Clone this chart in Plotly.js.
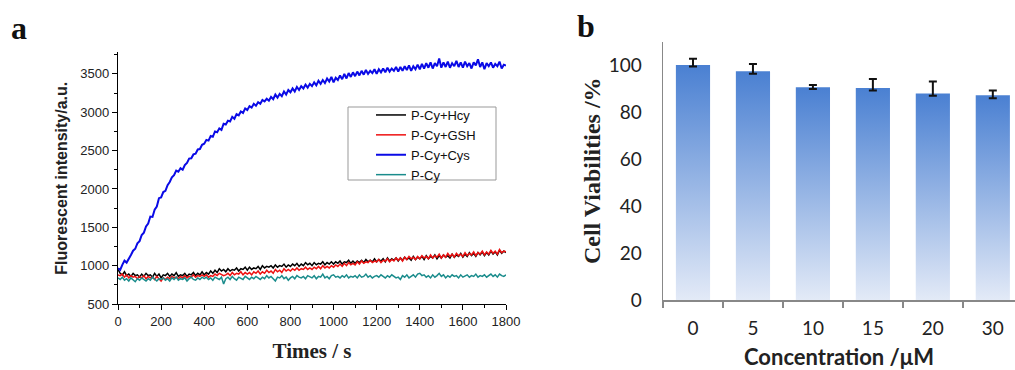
<!DOCTYPE html>
<html>
<head>
<meta charset="utf-8">
<script src="https://cdn.plot.ly/plotly-3.0.1.min.js"></script>
<style>html,body{margin:0;padding:0;background:#fff;}#chart{width:1015px;height:370px;}</style>
</head>
<body>
<div id="chart"></div>
<script>
// ---------- Panel a: kinetics (time step 10 s, 0..1800 s) ----------
var timeStep = 10;
var seriesNames = ["P-Cy+Hcy", "P-Cy+GSH", "P-Cy+Cys", "P-Cy"];
var hcy = [
 950,900,880,920,870,890,860,900,870,880,
 850,890,860,900,870,880,850,900,860,890,
 840,880,870,900,860,890,870,910,860,880,
 870,900,860,890,880,910,870,900,880,920,
 880,910,890,930,900,940,910,960,930,950,
 920,960,930,950,940,970,930,960,950,980,
 940,980,950,970,960,990,950,1000,970,990,
 980,1000,970,1010,980,1000,990,1020,980,1010,
 990,1020,1000,1030,990,1020,1000,1040,1010,1030,
 1000,1040,1010,1030,1020,1050,1010,1040,1020,1050,
 1020,1050,1030,1060,1020,1050,1040,1070,1030,1060,
 1030,1060,1040,1070,1040,1080,1050,1070,1050,1090,
 1050,1080,1060,1090,1050,1100,1060,1090,1070,1100,
 1060,1100,1070,1110,1080,1100,1070,1120,1080,1110,
 1090,1120,1080,1130,1090,1120,1100,1140,1090,1130,
 1100,1140,1110,1130,1100,1150,1110,1140,1120,1160,
 1110,1150,1120,1170,1130,1160,1120,1170,1140,1180,
 1130,1170,1140,1190,1150,1180,1140,1200,1160,1190,
 1170];
var gsh = [
 880,870,890,850,880,840,870,850,860,830,
 860,840,870,830,860,840,850,820,860,830,
 800,840,820,850,830,860,840,850,830,860,
 840,870,840,860,850,880,850,870,860,880,
 860,880,850,870,860,890,870,900,880,870,
 880,900,870,910,880,900,890,920,880,910,
 890,910,880,920,900,930,890,920,900,940,
 910,930,900,950,920,940,910,960,930,950,
 930,960,940,970,940,960,950,980,950,970,
 950,980,960,990,960,1000,970,990,970,1000,
 980,1010,990,1020,990,1030,1000,1040,1010,1030,
 1010,1050,1020,1060,1030,1050,1040,1070,1040,1060,
 1050,1080,1040,1070,1060,1090,1050,1080,1060,1100,
 1070,1100,1060,1110,1080,1120,1090,1110,1080,1120,
 1090,1130,1100,1120,1090,1140,1100,1130,1110,1150,
 1100,1140,1110,1160,1120,1150,1110,1160,1130,1150,
 1120,1170,1130,1160,1140,1180,1130,1170,1150,1190,
 1140,1180,1150,1200,1160,1190,1150,1210,1170,1190,
 1180];
var cys = [
 965,945,1010,1065,1040,1100,1140,1195,1220,1290,
 1320,1400,1430,1510,1550,1640,1635,1730,1770,1880,
 1890,1960,1975,2050,2090,2150,2180,2240,2225,2270,
 2250,2310,2340,2395,2400,2450,2460,2515,2520,2575,
 2590,2640,2630,2690,2680,2750,2740,2790,2770,2850,
 2840,2890,2880,2940,2915,2975,2960,3010,2990,3050,
 3030,3080,3060,3110,3085,3130,3110,3160,3140,3175,
 3150,3200,3170,3230,3190,3240,3210,3270,3230,3290,
 3260,3310,3270,3330,3290,3340,3310,3360,3320,3370,
 3340,3390,3350,3410,3370,3420,3380,3440,3400,3460,
 3390,3450,3420,3480,3430,3500,3440,3510,3460,3520,
 3470,3530,3480,3540,3490,3550,3500,3540,3510,3560,
 3500,3560,3520,3570,3520,3580,3530,3570,3540,3590,
 3530,3590,3540,3600,3550,3610,3540,3600,3560,3620,
 3560,3630,3570,3640,3580,3650,3570,3640,3600,3700,
 3580,3650,3590,3660,3580,3640,3600,3670,3590,3650,
 3580,3660,3600,3640,3570,3650,3610,3690,3590,3650,
 3560,3640,3600,3650,3580,3630,3600,3660,3570,3620,
 3610];
var pcy = [
 840,820,850,810,830,800,840,820,790,830,
 810,840,820,800,830,810,850,820,800,830,
 820,840,810,830,800,840,820,850,810,830,
 820,840,800,830,850,820,810,840,820,850,
 830,850,820,840,810,850,830,820,850,760,
 830,850,820,860,830,810,850,840,820,860,
 840,820,850,830,860,840,820,850,830,870,
 840,860,830,800,850,840,870,830,850,810,
 840,860,830,870,850,840,860,830,870,850,
 840,870,830,860,850,890,840,860,830,870,
 880,850,860,840,870,850,880,840,860,850,
 870,840,880,850,860,890,850,870,840,860,
 870,850,880,860,840,870,850,880,860,840,
 850,820,870,850,880,840,860,880,850,890,
 900,870,880,850,870,840,880,850,870,900,
 860,880,840,870,850,880,860,870,840,880,
 850,870,880,850,870,860,890,850,870,860,
 880,850,870,890,860,880,850,890,870,860,
 880];

// ---------- Panel b: cell viability ----------
var concLabels = ["0", "5", "10", "15", "20", "30"];
var viability = [100, 97.3, 90.5, 90.2, 87.9, 87.1];
var errPlus = [2.7, 3.1, 1.0, 3.8, 5.1, 2.1];
var errMinus = [0.6, 1.0, 0.7, 1.0, 1.0, 1.2];

var times = hcy.map(function (_, i) { return i * timeStep; });
var lineColors = ["#000000", "#ee1111", "#0a0ae6", "#1a8c8c"];
var lineWidths = [1.5, 1.5, 2, 1.5];
var lineData = [hcy, gsh, cys, pcy];

var traces = [];
lineData.forEach(function (ys, k) {
  traces.push({
    type: "scatter", mode: "lines", x: times, y: ys, name: seriesNames[k],
    xaxis: "x", yaxis: "y",
    line: {color: lineColors[k], width: lineWidths[k]},
    showlegend: true
  });
});

var halfW = 0.285;
viability.forEach(function (v, i) {
  traces.push({
    type: "scatter", mode: "lines", xaxis: "x2", yaxis: "y2",
    x: [i - halfW, i - halfW, i + halfW, i + halfW, i - halfW],
    y: [0, v, v, 0, 0],
    fill: "toself", line: {width: 0, color: "rgba(0,0,0,0)"},
    fillgradient: {type: "vertical", colorscale: [[0, "#e3eaf7"], [1, "#4a80d2"]]},
    showlegend: false, hoverinfo: "skip"
  });
});
traces.push({
  type: "scatter", mode: "markers", xaxis: "x2", yaxis: "y2",
  x: viability.map(function (_, i) { return i; }), y: viability,
  marker: {size: 1, opacity: 0},
  error_y: {type: "data", symmetric: false, array: errPlus, arrayminus: errMinus,
            color: "#111111", thickness: 2, width: 4},
  showlegend: false
});

var W = 1015, H = 370;
var layout = {
  width: W, height: H,
  margin: {l: 0, r: 0, t: 0, b: 0},
  paper_bgcolor: "#ffffff", plot_bgcolor: "rgba(0,0,0,0)",
  showlegend: true,
  legend: {
    x: 371 / W, y: 1 - 100 / H, xanchor: "left", yanchor: "top",
    bordercolor: "rgba(0,0,0,0)", borderwidth: 0, bgcolor: "rgba(0,0,0,0)",
    font: {family: "Liberation Sans, Arial, sans-serif", size: 13, color: "#111"},
    tracegroupgap: 0, itemwidth: 30
  },
  shapes: [
    {type: "rect", xref: "paper", yref: "paper", x0: 348 / W, x1: 496 / W, y0: 1 - 180 / H, y1: 1 - 107 / H,
     line: {color: "#999999", width: 1}, fillcolor: "rgba(255,255,255,0)", layer: "below"}
  ],
  xaxis: {
    domain: [118 / W, 506 / W], range: [0, 1800], anchor: "y",
    showline: true, linecolor: "#000", linewidth: 1.2, showgrid: false, zeroline: false,
    ticks: "outside", ticklen: 5, tickcolor: "#000", dtick: 200, tick0: 0,
    minor: {dtick: 100, ticks: "outside", ticklen: 3, tickcolor: "#000"},
    tickfont: {family: "Liberation Sans, Arial, sans-serif", size: 13, color: "#222"},
    title: {text: "Times / s", standoff: 15,
            font: {family: "Liberation Serif, serif", size: 21, color: "#222", weight: "bold"}}
  },
  yaxis: {
    domain: [66 / H, 317.6 / H], range: [500, 3780], anchor: "x",
    showline: true, linecolor: "#000", linewidth: 1.2, showgrid: false, zeroline: false,
    ticks: "outside", ticklen: 5, tickcolor: "#000", dtick: 500, tick0: 500,
    minor: {dtick: 250, ticks: "outside", ticklen: 3, tickcolor: "#000"},
    tickfont: {family: "Liberation Sans, Arial, sans-serif", size: 13, color: "#222"},
    title: {text: "Fluorescent intensity/a.u.", standoff: 8,
            font: {family: "Liberation Sans, Arial, sans-serif", size: 16, color: "#222", weight: "bold"}}
  },
  xaxis2: {
    domain: [663 / W, 1], range: [-0.5, 5.37], anchor: "y2",
    showline: true, linecolor: "#888", linewidth: 1.5, showgrid: false, zeroline: false,
    tickvals: [0, 1, 2, 3, 4, 5], ticktext: concLabels, ticks: "", ticklabelstandoff: 11,
    minor: {tickvals: [-0.5, 0.5, 1.5, 2.5, 3.5, 4.5, 5.5], ticks: "outside", ticklen: 6, tickcolor: "#888", tickwidth: 1.5},
    tickfont: {family: "Lato, sans-serif", size: 19, color: "#222"},
    title: {text: "Concentration /μM", standoff: 16,
            font: {family: "Lato, sans-serif", size: 22, color: "#222", weight: "bold"}}
  },
  yaxis2: {
    domain: [70 / H, 328.5 / H], range: [0, 110], anchor: "x2",
    showline: true, linecolor: "#888", linewidth: 1.5, showgrid: false, zeroline: false,
    tickvals: [0, 20, 40, 60, 80, 100], ticks: "", ticklabelstandoff: 16,
    tickfont: {family: "Lato, sans-serif", size: 19, color: "#222"},
    title: {text: "Cell Viabilities /%", standoff: 1,
            font: {family: "Liberation Serif, serif", size: 24, color: "#222", weight: "bold"}}
  },
  annotations: [
    {text: "<b>a</b>", xref: "paper", yref: "paper", x: 9 / W, y: 1 - 28 / H, xanchor: "left", yanchor: "middle",
     showarrow: false, font: {family: "Liberation Serif, serif", size: 32, color: "#111"}},
    {text: "<b>b</b>", xref: "paper", yref: "paper", x: 575 / W, y: 1 - 26 / H, xanchor: "left", yanchor: "middle",
     showarrow: false, font: {family: "Liberation Serif, serif", size: 32, color: "#111"}}
  ]
};

Plotly.newPlot("chart", traces, layout, {displayModeBar: false, staticPlot: true});
</script>
</body>
</html>
